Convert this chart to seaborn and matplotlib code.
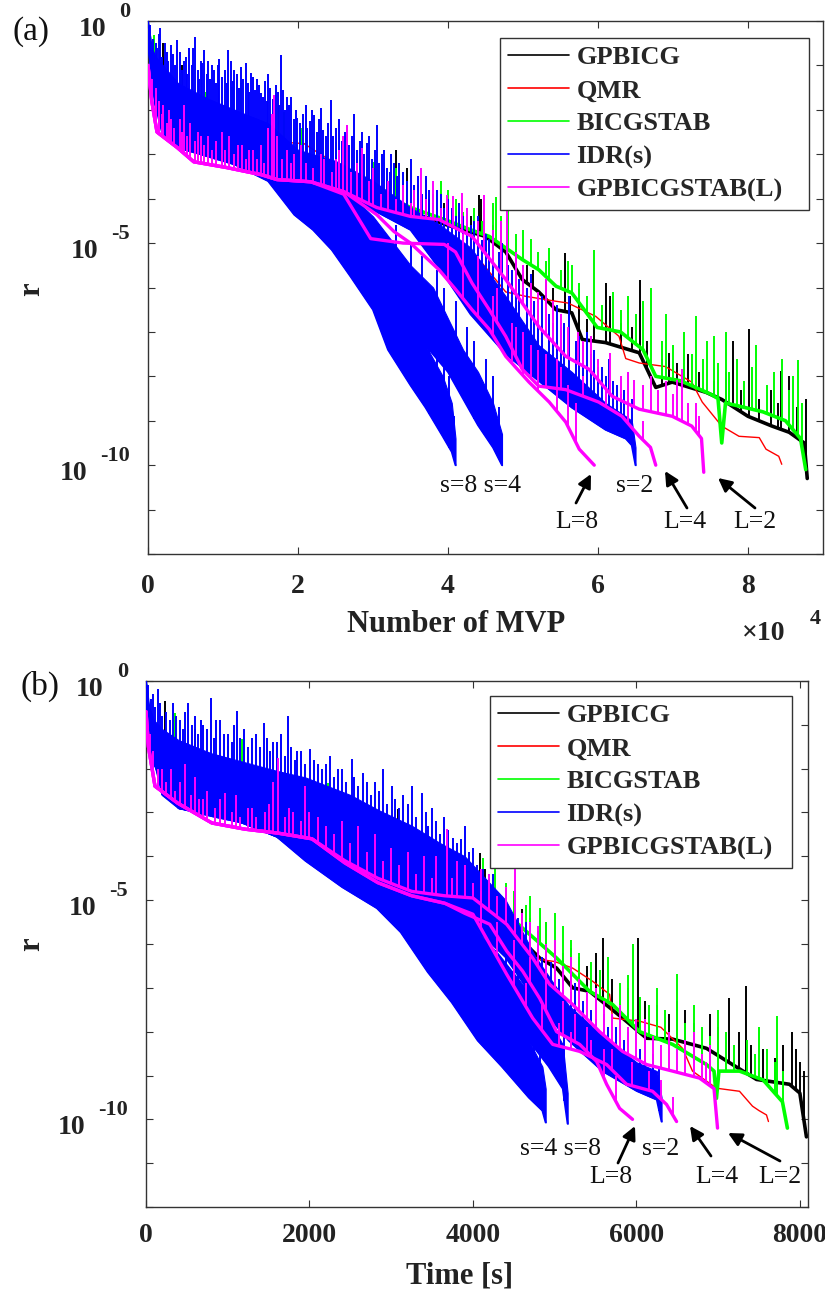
import numpy as np
import matplotlib
matplotlib.use("Agg")
import matplotlib.pyplot as plt
import matplotlib.transforms as mtransforms
from matplotlib.ticker import NullLocator, FixedLocator
from matplotlib.lines import Line2D
import seaborn as sns

sns.set_theme(style="white")
plt.rcParams["font.family"] = ["Liberation Serif", "DejaVu Serif"]
plt.rcParams["axes.unicode_minus"] = False

# ---------------------------------------------------------------- legend / colours
METHODS = ["GPBICG", "QMR", "BICGSTAB", "IDR(s)", "GPBICGSTAB(L)"]
COLORS = ["#000000", "#ff0000", "#00ff00", "#0000ff", "#ff00ff"]

# ================================================================ panel (a): x in 1e4 MVP, y = log10(r)
A_GPBICG_X = [0, 0.1, 0.3, 0.6, 1.0, 1.5, 2.0, 2.5, 3.0, 3.5, 4.0, 4.5, 4.77, 4.99, 5.21, 5.44, 5.65, 5.79, 6.1, 6.55, 6.77, 6.99, 7.44, 7.65, 8.0, 8.32, 8.55, 8.75, 8.79]
A_GPBICG_Y = [-0.3, -1.6, -2.4, -2.8, -3.0, -3.2, -3.35, -3.6, -3.9, -4.3, -4.6, -4.85, -5.2, -5.82, -6.1, -6.5, -6.57, -7.17, -7.24, -7.47, -8.25, -8.13, -8.36, -8.52, -8.9, -9.12, -9.26, -9.5, -10.3]
A_GPBICG_SX = [0.2, 0.45, 3.3, 3.45, 3.6, 3.75, 3.95, 4.15, 4.3, 4.41, 4.44, 4.6, 4.7, 4.79, 4.9, 5.05, 5.13, 5.3, 5.4, 5.56, 5.62, 5.75, 5.85, 5.95, 6.1, 6.16, 6.3, 6.45, 6.56, 6.65, 6.85, 6.95, 7.05, 7.2, 7.35, 7.55, 7.7, 7.8, 7.9, 8.01, 8.15, 8.3, 8.4, 8.44, 8.55, 8.65, 8.77]
A_GPBICG_SY = [-0.5, -1.0, -2.9, -3.3, -3.8, -4.0, -4.1, -4.3, -4.4, -3.91, -4.0, -4.6, -4.8, -5.0, -5.2, -5.5, -5.6, -5.8, -6.0, -5.23, -6.2, -6.04, -6.7, -6.5, -5.89, -6.2, -6.8, -6.9, -5.82, -7.2, -7.6, -7.48, -7.7, -7.5, -7.9, -8.1, -7.9, -7.21, -8.3, -6.94, -8.5, -8.3, -8.6, -7.89, -8.0, -8.7, -8.52]

A_QMR_X = [0, 0.05, 0.2, 0.5, 1.0, 1.5, 1.9, 2.08, 2.3, 2.6, 3.0, 3.5, 3.8, 4.15, 4.45, 4.77, 5.04, 5.44, 5.6, 5.97, 6.28, 6.37, 6.55, 6.9, 7.25, 7.39, 7.65, 7.88, 8.15, 8.24, 8.41, 8.45]
A_QMR_Y = [-0.4, -1.0, -1.7, -2.2, -2.45, -2.6, -2.74, -2.76, -3.0, -3.3, -3.7, -4.3, -4.5, -5.0, -5.44, -6.1, -6.2, -6.31, -6.35, -6.65, -7.1, -7.6, -7.7, -7.78, -8.13, -8.58, -9.12, -9.35, -9.38, -9.64, -9.8, -9.98]

A_BICGSTAB_X = [0, 0.1, 0.3, 0.6, 0.75, 1.0, 1.5, 2.0, 2.5, 3.0, 3.5, 4.0, 4.3, 4.55, 4.99, 5.21, 5.44, 5.65, 5.99, 6.3, 6.6, 6.77, 7.1, 7.5, 7.6, 7.65, 7.7, 7.88, 8.2, 8.5, 8.7, 8.77]
A_BICGSTAB_Y = [-0.1, -1.5, -2.3, -2.7, -2.9, -3.0, -3.15, -3.3, -3.5, -3.8, -4.2, -4.5, -4.7, -4.85, -5.37, -5.6, -5.97, -6.12, -6.9, -7.0, -7.4, -8.0, -8.1, -8.4, -8.5, -9.5, -8.6, -8.67, -8.8, -9.0, -9.4, -10.1]
A_BICGSTAB_SX = [0.08, 0.44, 0.77, 1.12, 1.24, 1.81, 2.04, 2.5, 3.01, 3.3, 3.6, 3.71, 3.8, 3.9, 4.0, 4.1, 4.2, 4.35, 4.45, 4.6, 4.64, 4.7, 4.8, 4.9, 5.0, 5.1, 5.2, 5.3, 5.35, 5.5, 5.6, 5.65, 5.75, 5.85, 5.95, 6.05, 6.2, 6.3, 6.4, 6.5, 6.6, 6.71, 6.85, 6.9, 7.0, 7.15, 7.25, 7.31, 7.4, 7.45, 7.55, 7.6, 7.7, 7.75, 7.85, 7.95, 8.05, 8.1, 8.25, 8.35, 8.45, 8.55, 8.6, 8.67, 8.72]
A_BICGSTAB_SY = [-0.31, -1.17, -1.6, -1.48, -1.4, -2.04, -2.4, -2.72, -3.17, -3.3, -3.7, -3.53, -3.9, -3.6, -3.8, -4.0, -4.3, -4.2, -4.5, -4.1, -3.96, -4.4, -4.25, -4.8, -4.7, -4.9, -5.2, -5.4, -5.1, -5.6, -5.4, -5.5, -5.9, -6.2, -5.15, -6.4, -6.1, -6.5, -6.2, -6.6, -6.3, -6.0, -7.2, -6.6, -7.3, -7.0, -7.5, -6.65, -7.6, -7.2, -7.1, -7.7, -7.0, -7.9, -7.6, -8.1, -7.8, -7.3, -8.2, -7.9, -7.6, -8.3, -8.0, -7.64, -8.6]

A_IDR2_X = [0, 0.05, 0.1, 0.2, 0.4, 0.8, 1.3, 1.6, 2.0, 2.5, 3.0, 3.5, 3.9, 4.3, 4.77, 5.21, 5.65, 6.1, 6.37, 6.45, 6.5]
A_IDR2_LO = [-0.2, -1.2, -1.9, -2.6, -2.85, -3.05, -3.3, -3.5, -3.7, -3.95, -4.25, -4.7, -5.6, -6.6, -7.5, -8.1, -8.7, -9.2, -9.4, -9.55, -10.0]
A_IDR2_HI = [0.0, -0.6, -0.8, -1.0, -1.4, -1.75, -2.1, -2.3, -2.9, -3.15, -3.6, -4.2, -4.6, -5.1, -6.2, -7.3, -7.9, -8.6, -8.9, -9.0, -9.6]
A_IDR2_SX = [0.03, 0.07, 0.1, 0.12, 0.14, 0.16, 0.18, 0.22, 0.25, 0.27, 0.3, 0.33, 0.36, 0.39, 0.42, 0.45, 0.48, 0.5, 0.52, 0.55, 0.58, 0.6, 0.63, 0.66, 0.68, 0.7, 0.72, 0.75, 0.78, 0.8, 0.82, 0.85, 0.88, 0.9, 0.93, 0.95, 0.98, 1.02, 1.05, 1.07, 1.1, 1.13, 1.15, 1.18, 1.21, 1.24, 1.27, 1.3, 1.33, 1.35, 1.37, 1.4, 1.43, 1.45, 1.48, 1.51, 1.53, 1.56, 1.58, 1.6, 1.63, 1.66, 1.7, 1.73, 1.75, 1.77, 1.8, 1.83, 1.85, 1.88, 1.9, 1.94, 1.97, 1.99, 2.02, 2.06, 2.1, 2.12, 2.16, 2.19, 2.21, 2.25, 2.28, 2.3, 2.33, 2.37, 2.4, 2.44, 2.47, 2.5, 2.55, 2.58, 2.62, 2.65, 2.68, 2.72, 2.75, 2.78, 2.82, 2.85, 2.88, 2.92, 2.95, 2.98, 3.02, 3.05, 3.08, 3.12, 3.15, 3.18, 3.22, 3.24, 3.28, 3.32, 3.35, 3.4, 3.45, 3.5, 3.55, 3.6, 3.65, 3.7, 3.75, 3.8, 3.85, 3.9, 3.95, 4.0, 4.05, 4.1, 4.15, 4.2, 4.25, 4.3, 4.35, 4.4, 4.45, 4.5, 4.55, 4.6, 4.68, 4.72, 4.8, 4.85, 4.9, 4.95, 5.05, 5.1, 5.15, 5.2, 5.25, 5.35, 5.4, 5.45, 5.5, 5.55, 5.61, 5.7, 5.75, 5.8, 5.85, 5.9, 5.95, 6.0, 6.05, 6.1, 6.15, 6.2, 6.25, 6.3, 6.35, 6.4, 6.45]
A_IDR2_SY = [-0.1, -0.4, -0.5, -0.6, -0.3, -0.16, -0.8, -0.5, -0.7, -0.9, -0.55, -0.75, -1.0, -0.43, -0.7, -1.1, -0.9, -0.8, -1.2, -0.6, -1.0, -0.6, -0.36, -1.1, -1.3, -0.9, -0.95, -0.65, -1.2, -0.9, -1.3, -0.99, -1.1, -1.4, -1.0, -0.85, -1.25, -1.1, -1.4, -0.65, -0.9, -1.35, -1.1, -1.2, -1.5, -1.03, -1.3, -0.95, -1.4, -1.6, -1.17, -1.25, -1.55, -1.3, -1.45, -1.62, -1.7, -1.35, -1.8, -1.2, -1.5, -1.75, -1.45, -1.6, -1.9, -0.76, -1.55, -2.0, -1.7, -1.9, -1.7, -2.2, -2.0, -2.18, -2.3, -2.1, -1.9, -2.4, -2.25, -2.0, -2.11, -2.5, -2.2, -1.95, -2.45, -2.6, -2.3, -1.78, -2.6, -2.4, -2.2, -2.7, -2.5, -2.34, -2.8, -2.6, -2.1, -2.9, -2.7, -2.5, -3.0, -2.75, -2.6, -3.1, -2.9, -2.34, -3.2, -3.0, -2.9, -3.3, -3.4, -3.0, -3.2, -3.5, -3.2, -3.4, -3.6, -3.1, -3.7, -3.5, -3.9, -3.5, -3.8, -4.1, -3.8, -3.9, -4.2, -4.0, -4.2, -4.4, -4.1, -4.4, -4.2, -4.6, -4.5, -4.4, -4.92, -4.8, -4.9, -4.7, -5.2, -5.0, -5.5, -5.6, -5.4, -5.8, -6.0, -5.7, -6.3, -6.5, -6.2, -6.6, -6.8, -6.4, -6.9, -6.8, -6.2, -7.2, -7.1, -7.3, -7.0, -7.5, -7.4, -7.8, -7.78, -8.0, -7.6, -8.1, -8.2, -8.4, -8.3, -7.9, -8.5]
A_IDR4_X = [0, 0.1, 0.4, 1.0, 1.6, 2.0, 2.5, 3.0, 3.5, 3.8, 4.0, 4.2, 4.4, 4.6, 4.72]
A_IDR4_LO = [-0.5, -1.9, -2.85, -3.1, -3.55, -4.35, -5.0, -5.9, -6.9, -7.5, -7.9, -8.5, -9.1, -9.6, -10.0]
A_IDR4_HI = [-0.3, -1.0, -1.5, -2.0, -2.4, -3.0, -3.6, -4.4, -5.5, -6.0, -6.7, -7.4, -7.9, -8.6, -9.3]
A_IDR4_SX = [3.3, 3.5, 3.65, 3.85, 3.95, 4.1, 4.25, 4.35, 4.5, 4.6, 4.68]
A_IDR4_SY = [-4.6, -5.0, -5.3, -5.6, -6.0, -6.3, -6.9, -7.2, -7.6, -8.0, -8.7]
A_IDR8_X = [0, 0.1, 0.4, 1.0, 1.6, 1.95, 2.2, 2.45, 2.7, 3.0, 3.2, 3.5, 3.7, 3.93, 4.05, 4.1]
A_IDR8_LO = [-0.5, -1.9, -2.85, -3.1, -3.6, -4.36, -4.7, -5.15, -5.75, -6.5, -7.4, -8.2, -8.7, -9.35, -9.7, -10.0]
A_IDR8_HI = [-0.3, -1.0, -1.5, -2.0, -2.4, -2.9, -3.2, -3.6, -4.2, -4.9, -5.6, -6.6, -7.3, -8.0, -8.6, -9.4]
A_IDR8_SX = [2.9, 3.1, 3.3, 3.45, 3.6, 3.75, 3.85, 3.95, 4.02, 4.08]
A_IDR8_SY = [-4.3, -4.9, -5.5, -5.9, -6.4, -6.8, -7.2, -7.5, -8.0, -8.9]

A_L8_X = [0, 0.05, 0.12, 0.39, 0.61, 1.05, 1.51, 1.72, 2.17, 2.61, 3.05, 3.28, 3.5, 3.88, 4.1, 4.32, 4.55, 4.77, 5.08, 5.35, 5.57, 5.75, 5.95]
A_L8_Y = [-1.0, -1.8, -2.5, -2.85, -3.17, -3.3, -3.46, -3.57, -3.62, -3.84, -4.36, -4.74, -5.0, -5.6, -6.04, -6.5, -6.94, -7.55, -8.13, -8.58, -9.03, -9.64, -10.0]
A_L8_SX = [4.0, 4.2, 4.4, 4.6, 4.85, 5.0, 5.2, 5.45, 5.6, 5.7]
A_L8_SY = [-5.0, -5.4, -5.6, -6.2, -6.8, -7.0, -7.4, -7.6, -8.2, -8.6]
A_L4_X = [0, 0.05, 0.12, 0.39, 0.61, 1.05, 1.51, 1.72, 2.17, 2.61, 2.97, 3.4, 3.95, 4.1, 4.32, 4.55, 4.77, 4.99, 5.21, 5.57, 6.01, 6.32, 6.55, 6.7, 6.77]
A_L4_Y = [-1.0, -1.8, -2.5, -2.85, -3.17, -3.3, -3.46, -3.57, -3.62, -3.9, -4.9, -5.0, -5.03, -5.2, -5.9, -6.5, -7.1, -7.84, -8.22, -8.3, -8.58, -8.9, -9.35, -9.6, -10.0]
A_L4_SX = [4.2, 4.4, 4.65, 4.9, 5.1, 5.3, 5.5, 5.8, 6.1, 6.4, 6.6]
A_L4_SY = [-4.8, -5.3, -6.0, -6.9, -7.3, -7.5, -7.8, -8.0, -8.3, -8.6, -9.0]
A_L2_X = [0, 0.05, 0.12, 0.39, 0.61, 1.05, 1.51, 1.72, 2.17, 2.61, 3.05, 3.5, 3.88, 4.32, 4.77, 5.21, 5.57, 5.88, 6.19, 6.55, 6.99, 7.25, 7.38, 7.41]
A_L2_Y = [-1.0, -1.8, -2.5, -2.85, -3.17, -3.3, -3.46, -3.57, -3.62, -3.84, -4.2, -4.4, -4.47, -4.85, -5.82, -6.88, -7.55, -7.84, -8.45, -8.74, -8.9, -9.12, -9.4, -10.16]
A_L2_SX = [0.05, 0.1, 0.15, 0.18, 0.2, 0.25, 0.28, 0.3, 0.35, 0.42, 0.45, 0.48, 0.52, 0.56, 0.62, 0.66, 0.7, 0.75, 0.8, 0.85, 0.9, 0.99, 1.03, 1.08, 1.15, 1.2, 1.25, 1.3, 1.35, 1.4, 1.45, 1.5, 1.55, 1.6, 1.65, 1.68, 1.72, 1.78, 1.85, 1.9, 1.95, 2.04, 2.1, 2.2, 2.3, 2.35, 2.45, 2.5, 2.55, 2.6, 2.65, 2.7, 2.78, 2.85, 2.95, 3.0, 3.1, 3.2, 3.3, 3.4, 3.5, 3.55, 3.64, 3.7, 3.8, 3.9, 3.99, 4.07, 4.19, 4.25, 4.4, 4.48, 4.6, 4.7, 4.79, 4.9, 5.0, 5.1, 5.2, 5.3, 5.4, 5.5, 5.6, 5.73, 5.8, 5.9, 6.0, 6.16, 6.3, 6.4, 6.48, 6.6, 6.7, 6.8, 6.9, 7.0, 7.05, 7.12, 7.2, 7.3, 7.35]
A_L2_SY = [-1.3, -1.5, -1.8, -2.1, -1.9, -2.3, -2.0, -2.2, -2.4, -2.2, -2.5, -1.89, -2.6, -2.3, -2.7, -2.5, -2.6, -2.8, -2.6, -2.9, -2.7, -2.49, -2.9, -2.6, -3.0, -2.8, -2.8, -3.1, -2.9, -2.9, -3.1, -2.8, -3.2, -2.4, -2.1, -1.66, -2.6, -3.1, -2.9, -3.2, -3.0, -2.79, -3.2, -3.3, -3.0, -3.1, -3.4, -3.1, -2.9, -2.6, -2.34, -3.4, -3.2, -2.85, -3.6, -3.3, -3.9, -3.6, -4.0, -3.7, -4.1, -3.8, -3.3, -4.0, -3.6, -4.2, -3.91, -3.93, -3.87, -4.2, -4.5, -3.91, -4.7, -4.5, -4.25, -5.2, -5.5, -5.9, -6.1, -5.8, -6.3, -6.6, -6.9, -7.0, -7.2, -7.1, -7.6, -7.48, -8.0, -7.9, -8.09, -8.2, -8.0, -8.3, -8.1, -8.4, -8.09, -7.84, -8.6, -8.6, -8.9]

# ================================================================ panel (b): x = time [s], y = log10(r)
B_GPBICG_X = [0, 60, 200, 400, 800, 1200, 1600, 2000, 2500, 3000, 3500, 4000, 4328, 4609, 4817, 5024, 5220, 5428, 5831, 6125, 6443, 6858, 7176, 7470, 7873, 8000, 8081]
B_GPBICG_Y = [-0.3, -1.5, -2.4, -2.8, -3.0, -3.15, -3.3, -3.5, -3.8, -4.1, -4.4, -4.75, -5.25, -5.94, -6.32, -6.55, -7.0, -7.08, -7.69, -8.15, -8.17, -8.38, -8.75, -9.09, -9.2, -9.4, -10.4]
B_GPBICG_SX = [232, 599, 2677, 3081, 3533, 3600, 3750, 3900, 4083, 4150, 4200, 4400, 4500, 4600, 4700, 4800, 4900, 5000, 5100, 5200, 5300, 5400, 5500, 5587, 5700, 5900, 6015, 6100, 6250, 6400, 6500, 6600, 6700, 6900, 7000, 7139, 7250, 7347, 7400, 7550, 7700, 7800, 7900, 7950, 8000, 8050]
B_GPBICG_SY = [-0.46, -1.1, -2.79, -2.92, -4.06, -3.8, -4.0, -4.0, -3.93, -4.3, -4.4, -4.7, -5.0, -5.2, -5.4, -5.7, -5.5, -5.9, -6.2, -6.1, -6.3, -6.5, -6.2, -5.87, -6.8, -7.0, -5.87, -7.3, -7.4, -7.6, -7.3, -7.5, -7.8, -7.6, -7.9, -7.24, -8.0, -6.96, -8.3, -8.4, -8.6, -8.3, -8.0, -8.4, -8.7, -8.9]

B_QMR_X = [0, 40, 150, 400, 800, 1200, 1700, 2100, 2300, 2600, 3000, 3400, 3700, 3961, 4365, 4694, 5000, 5220, 5465, 5673, 5709, 6039, 6300, 6565, 6687, 6980, 7262, 7421, 7500, 7592, 7616]
B_QMR_Y = [-0.4, -1.0, -1.7, -2.2, -2.45, -2.6, -2.74, -2.76, -3.0, -3.3, -3.7, -4.5, -5.1, -5.48, -6.23, -6.32, -6.4, -6.55, -6.85, -7.15, -7.69, -7.76, -7.9, -8.38, -8.9, -9.29, -9.36, -9.7, -9.8, -9.9, -10.05]

B_BICGSTAB_X = [0, 60, 200, 400, 700, 1000, 1500, 2000, 2500, 3000, 3500, 4000, 4206, 4609, 5024, 5428, 5709, 6039, 6443, 6858, 6950, 6980, 7010, 7262, 7550, 7787, 7848]
B_BICGSTAB_Y = [-0.1, -1.5, -2.4, -2.8, -3.0, -3.1, -3.25, -3.45, -3.75, -4.05, -4.35, -4.7, -4.95, -5.64, -6.32, -7.08, -7.38, -8.0, -8.29, -8.75, -8.9, -9.52, -8.9, -8.9, -9.1, -9.6, -10.2]
B_BICGSTAB_SX = [355, 1002, 1174, 1858, 2225, 2800, 3289, 3700, 3900, 4050, 4120, 4267, 4400, 4500, 4650, 4700, 4817, 4900, 5000, 5100, 5200, 5300, 5450, 5550, 5650, 5800, 5900, 5953, 6050, 6150, 6250, 6350, 6492, 6600, 6700, 6800, 6900, 7000, 7100, 7200, 7350, 7450, 7500, 7600, 7700, 7726, 7800]
B_BICGSTAB_SY = [-0.73, -1.48, -1.33, -2.4, -2.33, -2.92, -3.6, -3.7, -3.9, -4.3, -4.04, -4.29, -4.6, -4.8, -5.1, -4.9, -5.18, -5.5, -5.3, -5.6, -5.9, -6.2, -6.4, -6.6, -6.3, -6.9, -6.7, -6.0, -7.2, -7.4, -7.0, -7.5, -6.69, -7.8, -7.4, -7.9, -8.1, -7.5, -8.0, -8.3, -8.2, -8.5, -7.9, -8.4, -8.7, -7.65, -8.9]

B_IDR2_X = [0, 40, 100, 200, 400, 800, 1200, 1600, 1950, 2500, 2850, 3250, 3600, 3900, 4400, 4768, 5171, 5587, 6003, 6250, 6308]
B_IDR2_LO = [-0.2, -1.2, -1.8, -2.6, -2.9, -3.08, -3.24, -3.54, -3.9, -4.2, -4.45, -4.75, -5.0, -5.4, -6.3, -7.3, -8.2, -8.9, -9.35, -9.55, -10.05]
B_IDR2_HI = [0.0, -0.6, -0.9, -1.1, -1.35, -1.65, -1.85, -2.05, -2.2, -2.6, -2.95, -3.3, -3.7, -4.0, -5.0, -6.3, -7.4, -8.1, -8.7, -8.9, -9.5]
B_IDR2_SX = [30, 60, 80, 110, 147, 170, 200, 250, 290, 330, 370, 420, 450, 480, 513, 560, 600, 640, 670, 700, 750, 795, 830, 860, 900, 950, 1000, 1050, 1080, 1112, 1150, 1200, 1250, 1300, 1350, 1400, 1443, 1480, 1520, 1550, 1600, 1650, 1700, 1736, 1780, 1820, 1850, 1900, 1950, 2005, 2050, 2100, 2150, 2200, 2250, 2300, 2350, 2400, 2450, 2518, 2550, 2600, 2650, 2700, 2750, 2800, 2850, 2900, 2950, 3007, 3050, 3100, 3150, 3200, 3250, 3300, 3374, 3420, 3450, 3500, 3550, 3600, 3650, 3700, 3753, 3800, 3850, 3900, 3950, 4000, 4050, 4120, 4200, 4250, 4300, 4350, 4450, 4500, 4550, 4650, 4700, 4800, 4850, 4950, 5050, 5100, 5200, 5250, 5350, 5450, 5500, 5600, 5650, 5750, 5850, 5900, 6050, 6100, 6200, 6280]
B_IDR2_SY = [-0.1, -0.4, -0.3, -0.6, -0.18, -0.5, -0.8, -0.7, -0.9, -0.5, -0.8, -0.9, -1.1, -0.7, -0.5, -1.0, -0.8, -1.2, -0.9, -1.0, -1.1, -0.39, -1.3, -0.9, -0.9, -1.2, -1.2, -1.4, -1.0, -0.68, -1.3, -1.1, -1.5, -1.3, -1.2, -1.5, -0.96, -1.3, -1.6, -1.4, -1.4, -1.2, -1.7, -0.8, -1.5, -1.8, -1.6, -1.6, -1.9, -1.55, -1.8, -1.9, -2.0, -1.9, -1.7, -2.2, -2.0, -2.0, -2.3, -1.78, -2.2, -2.4, -2.1, -2.3, -2.6, -2.3, -2.5, -2.0, -2.8, -2.4, -2.7, -2.9, -2.6, -2.8, -2.4, -3.1, -2.56, -3.0, -3.3, -2.9, -3.2, -3.5, -3.1, -3.4, -3.58, -3.7, -3.6, -3.3, -3.9, -3.8, -4.2, -4.3, -4.6, -4.4, -4.9, -5.0, -5.3, -5.6, -5.4, -5.5, -5.8, -6.0, -6.3, -6.4, -6.8, -6.6, -7.1, -6.9, -7.3, -7.5, -7.7, -7.6, -7.9, -7.9, -8.2, -8.0, -8.4, -8.2, -8.5, -8.8]
B_IDR4_X = [0, 40, 100, 400, 1000, 1600, 1950, 2400, 2824, 3117, 3448, 3741, 4058, 4352, 4683, 4850, 4890]
B_IDR4_LO = [-0.5, -1.3, -1.9, -2.9, -3.1, -3.55, -4.1, -4.7, -5.18, -5.73, -6.64, -7.33, -8.2, -8.79, -9.5, -9.8, -10.07]
B_IDR4_HI = [-0.3, -0.8, -1.0, -1.6, -2.0, -2.4, -2.9, -3.4, -3.8, -4.3, -5.2, -5.8, -6.7, -7.4, -8.2, -8.8, -9.3]
B_IDR4_SX = [3300, 3500, 3650, 3850, 4000, 4150, 4250, 4400, 4550, 4650, 4750, 4820]
B_IDR4_SY = [-4.3, -4.8, -5.0, -5.4, -5.9, -6.2, -6.6, -7.0, -7.4, -7.6, -8.1, -8.4]
B_IDR8_X = [0, 40, 100, 400, 1000, 1600, 1950, 2400, 2800, 3200, 3570, 3900, 4300, 4683, 4927, 5100, 5159]
B_IDR8_LO = [-0.5, -1.3, -1.9, -2.9, -3.1, -3.55, -4.0, -4.55, -5.0, -5.5, -6.2, -6.9, -7.6, -8.2, -8.79, -9.3, -10.1]
B_IDR8_HI = [-0.3, -0.8, -1.0, -1.6, -2.0, -2.4, -2.9, -3.3, -3.7, -4.2, -4.8, -5.4, -6.2, -7.1, -7.7, -8.3, -9.4]
B_IDR8_SX = [3700, 3950, 4100, 4400, 4550, 4750, 4850, 4950, 5050, 5120]
B_IDR8_SY = [-4.6, -5.0, -5.4, -5.9, -6.3, -6.6, -7.0, -7.3, -7.6, -8.0]

B_L8_X = [0, 30, 110, 391, 807, 1210, 1614, 2030, 2433, 2836, 3252, 3655, 3900, 4206, 4413, 4609, 4817, 5024, 5306, 5514, 5636, 5795, 5953]
B_L8_Y = [-0.7, -1.5, -2.4, -2.79, -3.24, -3.38, -3.47, -3.6, -4.15, -4.6, -4.9, -5.07, -5.3, -5.55, -6.16, -6.62, -7.24, -8.0, -8.29, -8.68, -9.2, -9.75, -10.0]
B_L8_SX = [4100, 4300, 4500, 4700, 4900, 5100, 5250, 5400, 5600, 5750]
B_L8_SY = [-5.0, -5.5, -5.9, -6.3, -6.8, -7.3, -7.6, -7.9, -8.4, -9.0]
B_L4_X = [0, 30, 110, 391, 807, 1210, 1614, 2030, 2433, 2836, 3252, 3655, 4000, 4413, 4731, 4976, 5306, 5636, 5880, 6198, 6369, 6492]
B_L4_Y = [-0.7, -1.5, -2.4, -2.79, -3.24, -3.38, -3.47, -3.6, -4.15, -4.6, -4.9, -5.07, -5.32, -6.69, -7.69, -8.29, -8.45, -8.75, -9.2, -9.36, -9.66, -10.05]
B_L4_SX = [4100, 4300, 4500, 4650, 4850, 5050, 5200, 5450, 5700, 5950, 6150, 6300, 6450]
B_L4_SY = [-4.8, -5.6, -6.3, -6.9, -7.4, -7.8, -8.0, -8.2, -8.4, -8.7, -8.9, -9.1, -9.5]
B_L2_X = [0, 30, 110, 391, 807, 1210, 1614, 2030, 2433, 2836, 3252, 3655, 4000, 4413, 4731, 4939, 5220, 5550, 5831, 6125, 6443, 6773, 6950, 6993]
B_L2_Y = [-0.7, -1.5, -2.4, -2.79, -3.24, -3.38, -3.47, -3.6, -4.1, -4.5, -4.8, -4.9, -4.95, -5.55, -6.32, -6.92, -7.38, -8.0, -8.45, -8.75, -8.9, -9.06, -9.3, -10.2]
B_L2_SX = [50, 80, 150, 200, 250, 300, 350, 420, 477, 550, 600, 650, 700, 750, 850, 900, 966, 1050, 1100, 1150, 1250, 1300, 1350, 1450, 1500, 1550, 1614, 1700, 1750, 1800, 1900, 1944, 2000, 2100, 2200, 2300, 2400, 2500, 2600, 2700, 2800, 2900, 3000, 3100, 3200, 3300, 3400, 3500, 3550, 3680, 3750, 3800, 3900, 4000, 4100, 4200, 4300, 4400, 4511, 4600, 4700, 4800, 4900, 5000, 5100, 5200, 5300, 5400, 5500, 5600, 5700, 5800, 5900, 6000, 6100, 6200, 6300, 6400, 6500, 6600, 6700, 6800, 6850, 6900]
B_L2_SY = [-1.2, -1.6, -2.0, -2.0, -2.3, -2.0, -2.5, -2.3, -1.9, -2.6, -2.2, -2.7, -2.7, -2.5, -2.9, -2.7, -2.56, -3.0, -2.6, -3.1, -2.9, -2.9, -3.1, -3.0, -2.8, -2.3, -1.76, -3.1, -2.9, -3.0, -3.2, -2.4, -3.0, -3.1, -3.3, -3.5, -3.2, -3.7, -3.3, -3.9, -3.5, -4.1, -3.8, -4.2, -3.9, -4.4, -4.0, -4.5, -4.0, -3.38, -4.5, -4.1, -4.2, -4.6, -4.3, -4.4, -4.9, -4.7, -4.18, -5.3, -5.5, -5.6, -6.0, -5.9, -6.5, -6.3, -6.8, -7.1, -7.0, -7.3, -7.6, -7.4, -7.9, -7.7, -7.7, -8.1, -8.3, -8.0, -8.4, -8.2, -8.0, -8.5, -8.7, -8.3]

# ================================================================ axis text
A_XTICKS = [0, 2, 4, 6, 8]
B_XTICKS = [0, 2000, 4000, 6000, 8000]
Y_LABEL_EXPS = [0, -5, -10]
A_XLABEL = "Number of MVP"
B_XLABEL = "Time [s]"
YLABEL = "r"

# ================================================================ figure layout (pixel boxes of the two axes)
W, H = 825, 1296
fig = plt.figure(figsize=(W / 100, H / 100), dpi=100)
BOX_A = (148, 21, 823, 554)
BOX_B = (146, 681, 808, 1207)


def add_ax(box):
    l, t, r, b = box
    return fig.add_axes([l / W, 1 - b / H, (r - l) / W, (b - t) / H])


def frac(box, px, py):
    l, t, r, b = box
    return ((px - l) / (r - l), (b - py) / (b - t))


def p10(v):
    return 10.0 ** np.asarray(v, dtype=float)


def line(ax, x, y, color, lw, z):
    sns.lineplot(x=np.asarray(x, float), y=p10(y), ax=ax, color=color, lw=lw,
                 sort=False, estimator=None, legend=False, zorder=z)


def spikes(ax, x, y, sx, sy, color, lw, z):
    base = np.interp(sx, x, y)
    ax.vlines(sx, p10(base), p10(sy), colors=color, lw=lw, zorder=z)


def band(ax, x, lo, hi, color, z):
    ax.fill_between(np.asarray(x, float), p10(lo), p10(hi), color=color, lw=0.8, zorder=z)
    line(ax, x, lo, color, 1.4, z)


def draw_panel(ax, d):
    k, r, g, b, m = COLORS
    line(ax, d["gx"], d["gy"], k, 2.6, 2)
    spikes(ax, d["gx"], d["gy"], d["gsx"], d["gsy"], k, 1.4, 2)
    line(ax, d["qx"], d["qy"], r, 1.0, 3)
    line(ax, d["bx"], d["by"], g, 2.6, 4)
    spikes(ax, d["bx"], d["by"], d["bsx"], d["bsy"], g, 1.4, 4)
    for s in ("8", "4", "2"):
        band(ax, d["i%sx" % s], d["i%slo" % s], d["i%shi" % s], b, 5)
        spikes(ax, d["i%sx" % s], d["i%slo" % s], d["i%ssx" % s], d["i%ssy" % s], b, 1.4, 5)
    for s in ("8", "4", "2"):
        line(ax, d["l%sx" % s], d["l%sy" % s], m, 2.4, 6)
        spikes(ax, d["l%sx" % s], d["l%sy" % s], d["l%ssx" % s], d["l%ssy" % s], m, 1.4, 6)


def style_axes(ax, box, xlim, xticks, xpad):
    ax.set_yscale("log")
    ax.set_xlim(*xlim)
    ax.set_ylim(1e-12, 1e0)
    ax.set_xticks(xticks)
    ax.set_xticklabels([str(t) for t in xticks])
    ax.yaxis.set_major_locator(FixedLocator([10.0 ** e for e in range(-12, 1)]))
    ax.yaxis.set_minor_locator(NullLocator())
    ax.set_yticklabels([])
    ax.tick_params(axis="both", which="both", direction="in", length=5, width=0.8,
                   top=True, right=True, bottom=True, left=True, color="#333333")
    ax.tick_params(axis="x", pad=xpad, labelsize=20)
    for lab in ax.get_xticklabels():
        lab.set_fontweight("bold")
        lab.set_color("#222222")
    for s in ax.spines.values():
        s.set_color("#333333")
        s.set_linewidth(1.0)
    ax.set_facecolor("white")
    ax.grid(False)
    base_tr = mtransforms.blended_transform_factory(ax.transAxes, ax.transData)
    for e in Y_LABEL_EXPS:
        tr_e = mtransforms.offset_copy(base_tr, fig=fig, x=-18, y=4, units="dots")
        ax.text(0, 10.0 ** e, str(e), transform=tr_e, ha="right", va="baseline",
                fontsize=16, fontweight="bold", color="#222222", clip_on=False)
    return base_tr


def add_ten(ax, base_tr):
    fig.canvas.draw()
    rend = fig.canvas.get_renderer()
    for t in list(ax.texts):
        s = t.get_text()
        if s.lstrip("-").isdigit():
            bb = t.get_window_extent(renderer=rend)
            ydisp = ax.transData.transform((0, 10.0 ** float(s)))[1]
            xa = ax.transAxes.inverted().transform((bb.x0 - 13, ydisp))[0]
            tr = mtransforms.offset_copy(base_tr, fig=fig, x=0, y=-15, units="dots")
            ax.text(xa, 10.0 ** float(s), "10", transform=tr, ha="right", va="baseline",
                    fontsize=20, fontweight="bold", color="#222222", clip_on=False)


def legend(ax, box, left_px, top_px, right_px, bottom_px):
    handles = [Line2D([], [], color=c, lw=1.2) for c in COLORS]
    x0, y1 = frac(box, left_px, top_px)
    x1, y0 = frac(box, right_px, bottom_px)
    leg = ax.legend(handles, METHODS, loc="upper left",
                    bbox_to_anchor=(x0, y0, x1 - x0, y1 - y0), mode="expand",
                    prop={"family": "Liberation Serif", "weight": "bold", "size": 19},
                    frameon=True, fancybox=False, edgecolor="#333333", framealpha=1,
                    handlelength=2.3, handletextpad=0.3, borderpad=0.3,
                    labelspacing=0.36, borderaxespad=0)
    leg.get_frame().set_linewidth(1.0)
    leg.set_zorder(20)


def annotate(ax, box, texts, arrows):
    for s, (px, py) in texts:
        fx, fy = frac(box, px, py)
        ax.text(fx, fy, s, transform=ax.transAxes, ha="center", va="center",
                fontsize=18.5, color="#111111", zorder=21)
    for (tx, ty), (hx, hy) in arrows:
        ax.annotate("", xy=frac(box, hx, hy), xytext=frac(box, tx, ty),
                    xycoords="axes fraction", textcoords="axes fraction",
                    arrowprops=dict(arrowstyle="-|>", color="black", lw=2.0,
                                    mutation_scale=20, shrinkA=0, shrinkB=0),
                    zorder=21)


def panel_data(p):
    g = globals()
    d = dict(gx=g[p + "GPBICG_X"], gy=g[p + "GPBICG_Y"], gsx=g[p + "GPBICG_SX"], gsy=g[p + "GPBICG_SY"],
             qx=g[p + "QMR_X"], qy=g[p + "QMR_Y"],
             bx=g[p + "BICGSTAB_X"], by=g[p + "BICGSTAB_Y"], bsx=g[p + "BICGSTAB_SX"], bsy=g[p + "BICGSTAB_SY"])
    for s in ("2", "4", "8"):
        d["i%sx" % s] = g[p + "IDR%s_X" % s]
        d["i%slo" % s] = g[p + "IDR%s_LO" % s]
        d["i%shi" % s] = g[p + "IDR%s_HI" % s]
        d["i%ssx" % s] = g[p + "IDR%s_SX" % s]
        d["i%ssy" % s] = g[p + "IDR%s_SY" % s]
        d["l%sx" % s] = g[p + "L%s_X" % s]
        d["l%sy" % s] = g[p + "L%s_Y" % s]
        d["l%ssx" % s] = g[p + "L%s_SX" % s]
        d["l%ssy" % s] = g[p + "L%s_SY" % s]
    return d


# ---------------------------------------------------------------- panel (a)
axA = add_ax(BOX_A)
draw_panel(axA, panel_data("A_"))
trA = style_axes(axA, BOX_A, (0, 9.0), A_XTICKS, 14.5)
legend(axA, BOX_A, 500, 38, 809, 208)
annotate(axA, BOX_A,
         [("s=8 s=4", (481, 486)), ("s=2", (635, 486)),
          ("L=8", (577, 522)), ("L=4", (685, 522)), ("L=2", (755, 522))],
         [((576, 503), (591, 474)), ((687, 508), (665, 471)), ((755, 508), (718, 478))])
axA.set_xlabel(A_XLABEL, fontsize=22, fontweight="bold", color="#222222")
axA.xaxis.set_label_coords(*frac(BOX_A, 456, 625))
axA.xaxis.label.set_va("center")
axA.set_ylabel(YLABEL, fontsize=22, fontweight="bold", color="#222222")
axA.yaxis.set_label_coords(*frac(BOX_A, 32, 289))
axA.yaxis.label.set_va("center")
fig.text(742 / W, 1 - 633 / H, "\u00d710", fontsize=20, fontweight="bold", color="#222222",
         ha="left", va="center")
fig.text(810 / W, 1 - 619 / H, "4", fontsize=16, fontweight="bold", color="#222222",
         ha="left", va="center")
fig.text(13 / W, 1 - 32 / H, "(a)", fontsize=24, color="#111111", ha="left", va="center")

# ---------------------------------------------------------------- panel (b)
axB = add_ax(BOX_B)
draw_panel(axB, panel_data("B_"))
trB = style_axes(axB, BOX_B, (0, 8100), B_XTICKS, 11.5)
legend(axB, BOX_B, 490, 696, 792, 862)
annotate(axB, BOX_B,
         [("s=4 s=8", (561, 1149)), ("s=2", (661, 1149)),
          ("L=8", (611, 1177)), ("L=4", (717, 1177)), ("L=2", (780, 1177))],
         [((618, 1163), (635, 1126)), ((711, 1156), (690, 1126)), ((780, 1161), (728, 1133))])
axB.set_xlabel(B_XLABEL, fontsize=22, fontweight="bold", color="#222222")
axB.xaxis.set_label_coords(*frac(BOX_B, 460, 1276))
axB.xaxis.label.set_va("center")
axB.set_ylabel(YLABEL, fontsize=22, fontweight="bold", color="#222222")
axB.yaxis.set_label_coords(*frac(BOX_B, 32, 944))
axB.yaxis.label.set_va("center")
fig.text(20 / W, 1 - 686 / H, "(b)", fontsize=24, color="#111111", ha="left", va="center")

add_ten(axA, trA)
add_ten(axB, trB)

fig.savefig("out.png", dpi=100, facecolor="white")
